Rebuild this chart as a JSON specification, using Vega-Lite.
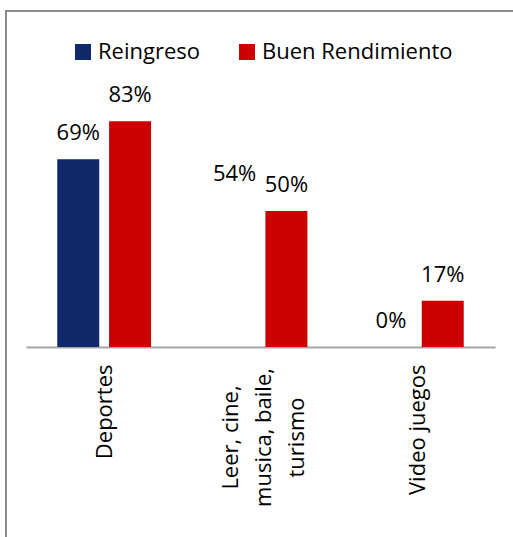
{
  "$schema": "https://vega.github.io/schema/vega-lite/v6.json",
  "width": 510,
  "height": 530,
  "autosize": {"type": "none"},
  "padding": {"left": 6, "top": 11, "right": -3, "bottom": -4},
  "config": {
    "view": {"stroke": "#8c8c8c", "strokeWidth": 2},
    "font": "Open Sans"
  },
  "data": {
    "values": [
      {"category": "Deportes", "series": "Reingreso", "value": 0.69},
      {"category": "Deportes", "series": "Buen Rendimiento", "value": 0.83},
      {"category": "Leer, cine, musica, baile, turismo", "series": "Reingreso", "value": 0.54},
      {"category": "Leer, cine, musica, baile, turismo", "series": "Buen Rendimiento", "value": 0.50},
      {"category": "Video juegos", "series": "Reingreso", "value": 0.0},
      {"category": "Video juegos", "series": "Buen Rendimiento", "value": 0.17}
    ]
  },
  "encoding": {
    "x": {
      "field": "category",
      "type": "nominal",
      "sort": ["Deportes", "Leer, cine, musica, baile, turismo", "Video juegos"],
      "scale": {"range": [20, 489], "paddingInner": 0.4, "paddingOuter": 0.2},
      "axis": {
        "title": null,
        "labelAngle": 270,
        "offset": -194,
        "ticks": false,
        "tickSize": 0,
        "labelPadding": {"condition": {"test": "datum.value == 'Leer, cine, musica, baile, turismo'", "value": 90}, "value": 17},
        "labelAlign": {"condition": {"test": "datum.value == 'Leer, cine, musica, baile, turismo'", "value": "center"}, "value": "right"},
        "labelOffset": {"condition": {"test": "datum.value == 'Leer, cine, musica, baile, turismo'", "value": -30}, "value": 1},
        "labelFont": "Open Sans",
        "labelFontSize": 22,
        "labelColor": "#000000",
        "domainColor": "#a6a6a6",
        "domainWidth": 2,
        "labelLineHeight": 33,
        "labelLimit": 400,
        "labelExpr": "datum.value == 'Leer, cine, musica, baile, turismo' ? ['Leer, cine,', 'musica, baile,', 'turismo'] : datum.value"
      }
    },
    "xOffset": {
      "field": "series",
      "type": "nominal",
      "sort": ["Reingreso", "Buen Rendimiento"],
      "scale": {"paddingInner": 0.19, "paddingOuter": 0}
    },
    "y": {
      "field": "value",
      "type": "quantitative",
      "scale": {"domain": [-0.7132, 1.2353], "nice": false, "zero": false},
      "axis": null
    }
  },
  "layer": [
    {
      "transform": [
        {"filter": "!(datum.series == 'Reingreso' && datum.category == 'Leer, cine, musica, baile, turismo')"}
      ],
      "mark": {"type": "bar"},
      "encoding": {
        "y2": {"datum": 0},
        "color": {
          "field": "series",
          "type": "nominal",
          "sort": ["Reingreso", "Buen Rendimiento"],
          "scale": {"domain": ["Reingreso", "Buen Rendimiento"], "range": ["#10296B", "#CC0000"]},
          "legend": {
            "title": null,
            "orient": "none",
            "legendX": 66,
            "legendY": 30,
            "direction": "horizontal",
            "padding": 0,
            "labelFont": "Open Sans",
            "labelFontSize": 22,
            "labelColor": "#000000",
            "symbolType": "square",
            "symbolSize": 256,
            "symbolStrokeWidth": 0,
            "labelOffset": 4,
            "columnPadding": 36,
            "labelLimit": 400
          }
        }
      }
    },
    {
      "mark": {"type": "text", "baseline": "middle", "dy": -26, "fontSize": 22, "font": "Open Sans", "color": "#000000"},
      "encoding": {
        "text": {"field": "value", "type": "quantitative", "format": ".0%"}
      }
    }
  ]
}
